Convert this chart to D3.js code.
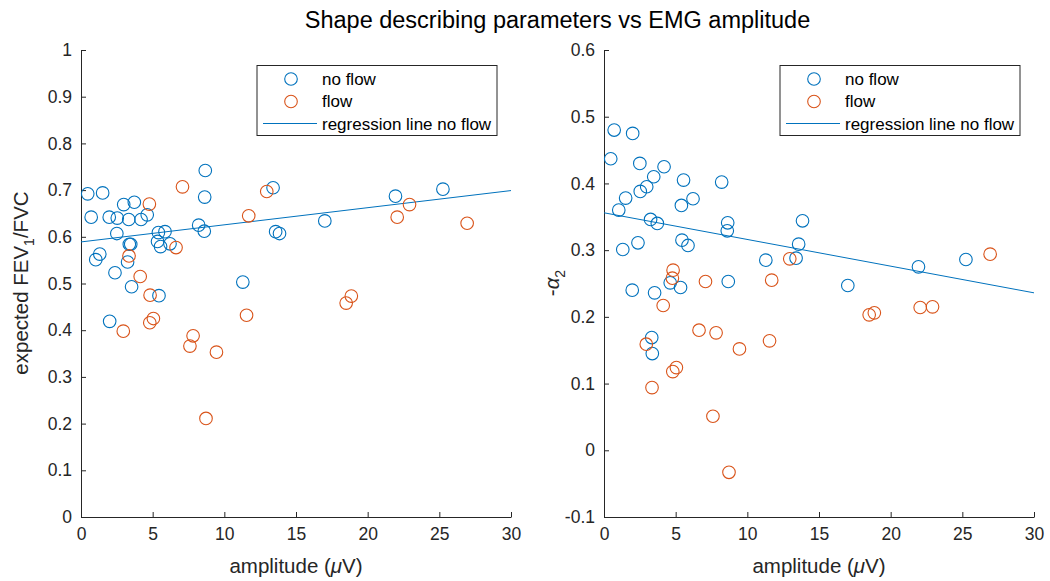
<!DOCTYPE html>
<html><head><meta charset="utf-8">
<script src="https://cdn.jsdelivr.net/npm/d3@7"></script>
<style>body{margin:0;background:#fff;} svg{display:block;font-family:"Liberation Sans",Arial,sans-serif;}</style>
</head><body>
<svg id="c" width="1050" height="581"></svg>
<script>
// ---- data ----
const noFlowAmp = [0.47,0.71,1.03,1.31,1.51,1.97,2.0,2.37,2.5,2.53,2.98,3.25,3.33,3.37,3.47,3.53,3.72,4.19,4.62,5.34,5.4,5.44,5.55,5.86,6.21,8.21,8.6,8.63,8.67,11.29,13.4,13.58,13.85,17.01,21.94,25.25];
const noFlowFev = [0.692,0.642,0.551,0.563,0.694,0.642,0.419,0.523,0.607,0.640,0.669,0.546,0.637,0.584,0.584,0.493,0.674,0.637,0.647,0.590,0.609,0.474,0.579,0.611,0.585,0.625,0.612,0.685,0.742,0.503,0.705,0.611,0.607,0.634,0.687,0.702];
const noFlowAlpha = [0.437,0.480,0.360,0.301,0.378,0.240,0.475,0.311,0.430,0.388,0.395,0.346,0.169,0.145,0.410,0.236,0.340,0.425,0.251,0.244,0.367,0.315,0.405,0.307,0.377,0.402,0.329,0.341,0.253,0.285,0.288,0.309,0.344,0.247,0.275,0.286];
const flowAmp = [2.95,3.35,4.13,4.77,4.8,4.82,5.05,6.63,7.08,7.6,7.82,8.72,9.45,11.55,11.7,12.96,18.5,18.86,22.06,22.92,26.94];
const flowFev = [0.398,0.559,0.515,0.670,0.416,0.475,0.425,0.577,0.707,0.366,0.388,0.211,0.353,0.432,0.645,0.697,0.458,0.473,0.642,0.669,0.629];
const flowAlpha = [0.159,0.094,0.217,0.258,0.118,0.270,0.124,0.180,0.253,0.051,0.176,-0.033,0.152,0.164,0.255,0.287,0.203,0.206,0.214,0.215,0.294];
const regFevX = [0,30], regFevY = [0.589,0.699];
const regAlphaX = [0,30], regAlphaY = [0.356,0.236];
const xTicks = [0,5,10,15,20,25,30];
const fevTicks = [0,0.1,0.2,0.3,0.4,0.5,0.6,0.7,0.8,0.9,1];
const alphaTicks = [-0.1,0,0.1,0.2,0.3,0.4,0.5,0.6];
const legendLabels = ["no flow","flow","regression line no flow"];
const title = "Shape describing parameters vs EMG amplitude";

const BLUE = "#0072BD", ORANGE = "#D95319", AX = "#262626";
const svg = d3.select("#c");

svg.append("text").attr("x",557.5).attr("y",28).attr("text-anchor","middle")
  .attr("font-size",23.5).attr("fill","#000").text(title);

const fmt = d => String(+d.toFixed(1));

function panel(x0, yDomain, yTicks, yNoFlow, yFlow, regX, regY, ylabelFn){
  const x = d3.scaleLinear().domain([0,30]).range([x0, x0+430]);
  const y = d3.scaleLinear().domain(yDomain).range([517, 50]);
  const g = svg.append("g");
  const xa = g.append("g").attr("transform","translate(0,517)")
    .call(d3.axisBottom(x).tickValues(xTicks).tickSizeInner(-5).tickSizeOuter(0).tickPadding(11).tickFormat(fmt));
  const ya = g.append("g").attr("transform",`translate(${x0},0)`)
    .call(d3.axisLeft(y).tickValues(yTicks).tickSizeInner(-5).tickSizeOuter(0).tickPadding(9).tickFormat(fmt));
  [xa,ya].forEach(a=>{
    a.select(".domain").attr("stroke",AX).attr("stroke-width",1);
    a.selectAll(".tick line").attr("stroke",AX);
    a.selectAll(".tick text").attr("fill",AX).attr("font-size",17.5).attr("font-family","Liberation Sans, Arial, sans-serif");
  });
  g.append("line").attr("x1",x(regX[0])).attr("y1",y(regY[0])).attr("x2",x(regX[1])).attr("y2",y(regY[1]))
    .attr("stroke",BLUE).attr("stroke-width",1);
  g.selectAll("circle.nf").data(noFlowAmp.map((a,i)=>[a,yNoFlow[i]])).enter().append("circle")
    .attr("cx",d=>x(d[0])).attr("cy",d=>y(d[1])).attr("r",6.3).attr("fill","none").attr("stroke",BLUE).attr("stroke-width",1.1);
  g.selectAll("circle.f").data(flowAmp.map((a,i)=>[a,yFlow[i]])).enter().append("circle")
    .attr("cx",d=>x(d[0])).attr("cy",d=>y(d[1])).attr("r",6.3).attr("fill","none").attr("stroke",ORANGE).attr("stroke-width",1.1);
  const xl = g.append("text").attr("x",x0+215).attr("y",573).attr("text-anchor","middle").attr("font-size",20.5).attr("fill",AX);
  xl.append("tspan").text("amplitude (");
  xl.append("tspan").attr("font-style","italic").text("\u03BC");
  xl.append("tspan").text("V)");
  ylabelFn(g);
  const lx = x0+176, ly = 65.5;
  g.append("rect").attr("x",lx).attr("y",ly).attr("width",240).attr("height",70).attr("fill","#fff").attr("stroke",AX).attr("stroke-width",1);
  g.append("circle").attr("cx",lx+34).attr("cy",ly+13.5).attr("r",6.3).attr("fill","none").attr("stroke",BLUE).attr("stroke-width",1.1);
  g.append("circle").attr("cx",lx+34).attr("cy",ly+36).attr("r",6.3).attr("fill","none").attr("stroke",ORANGE).attr("stroke-width",1.1);
  g.append("line").attr("x1",lx+6).attr("x2",lx+60).attr("y1",ly+58).attr("y2",ly+58).attr("stroke",BLUE).attr("stroke-width",1);
  legendLabels.forEach((t,i)=>{
    g.append("text").attr("x",lx+65).attr("y",ly+13.5+i*22.3).attr("dy","0.35em").attr("font-size",17).attr("fill","#000").text(t);
  });
}

panel(81,[0,1],fevTicks,noFlowFev,flowFev,regFevX,regFevY,g=>{
  const t = g.append("text").attr("transform","translate(28,283) rotate(-90)").attr("text-anchor","middle").attr("font-size",20.5).attr("fill",AX);
  t.append("tspan").text("expected FEV");
  t.append("tspan").attr("font-size",14).attr("dy",6).text("1");
  t.append("tspan").attr("dy",-6).text("/FVC");
});

panel(604,[-0.1,0.6],alphaTicks,noFlowAlpha,flowAlpha,regAlphaX,regAlphaY,g=>{
  const t = g.append("text").attr("transform","translate(559,283) rotate(-90)").attr("text-anchor","middle").attr("font-size",20.5).attr("fill",AX);
  t.append("tspan").text("-");
  t.append("tspan").attr("font-style","italic").text("\u03B1");
  t.append("tspan").attr("font-size",14).attr("dy",6).text("2");
});
</script>
</body></html>
